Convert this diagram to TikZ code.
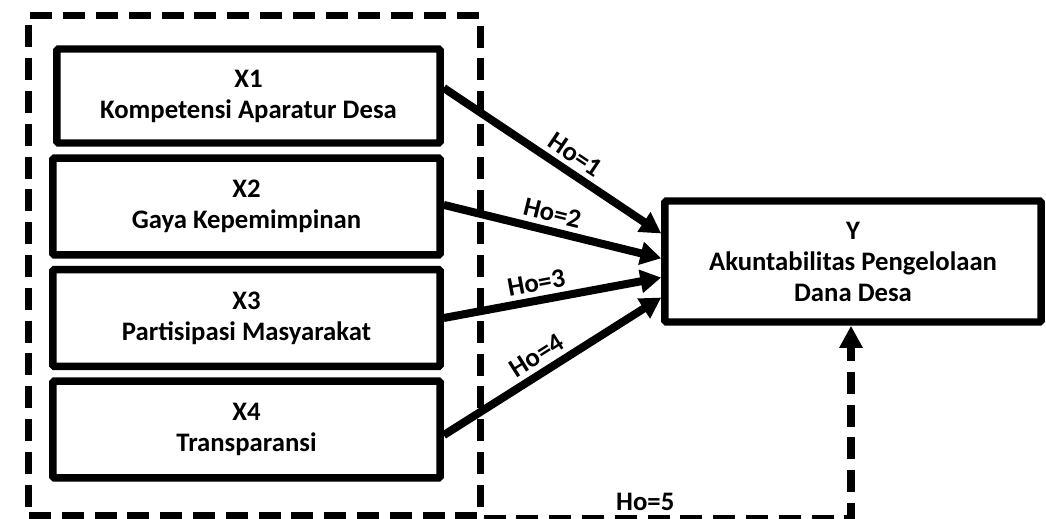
\documentclass[tikz,border=0pt]{standalone}
\usepackage{fontspec}
\setmainfont{Carlito}
\usetikzlibrary{arrows.meta}

\begin{document}
\begin{tikzpicture}[x=0.025cm,y=-0.025cm,
  font=\bfseries\fontsize{19}{22}\selectfont,
  var/.style={draw,line width=5.3pt,rounded corners=1pt,align=center,
    minimum width=9.675cm,minimum height=2.42cm,inner sep=0pt},
  hyp/.style={->,line width=5.7pt,>={Triangle[length=0.52cm,width=0.56cm]}},
  grpline/.style={line width=5pt,dash pattern=on 0.55cm off 0.27cm}]

\useasboundingbox (0,0) rectangle (1046,519);

\node [var, minimum width=9.575cm, minimum height=2.35cm] (x1) at (248.5,96)
      {X1\\Kompetensi Aparatur Desa};
\node [var] (x2) at (246.5,206.5) {X2\\Gaya Kepemimpinan};
\node [var] (x3) at (246.5,318)   {X3\\Partisipasi Masyarakat};
\node [var] (x4) at (246.5,429.5) {X4\\Transparansi};
\node [var, minimum width=9.4cm, minimum height=3.025cm] (y) at (853,261.5)
      {Y\\Akuntabilitas Pengelolaan\\Dana Desa};

% dashed group round X1..X4
\node [draw, grpline, minimum width=11.275cm, minimum height=12.475cm] (grp)
      at (254.5,265.5) {};

\draw [hyp] ([yshift=0.2cm]x1.east) -- node [sloped, above, pos=0.56] {Ho=1}
      ([yshift=0.7cm]y.west);
\draw [hyp] ([yshift=0.04cm]x2.east) -- node [sloped, above, pos=0.48] {Ho=2}
      ([yshift=0.08cm]y.west);
\draw [hyp] (x3.east) -- node [sloped, above, pos=0.44] {Ho=3}
      ([yshift=-0.4cm]y.west);
\draw [hyp] ([yshift=-0.14cm]x4.east) -- node [sloped, above, pos=0.47] {Ho=4}
      ([yshift=-0.9cm]y.west);

\draw [grpline, -{Triangle[length=0.55cm,width=0.55cm]}]
      (grp.south east) -| node [above, pos=0.22] {Ho=5}
      ([xshift=-0.05cm]y.south);

\end{tikzpicture}
\end{document}
